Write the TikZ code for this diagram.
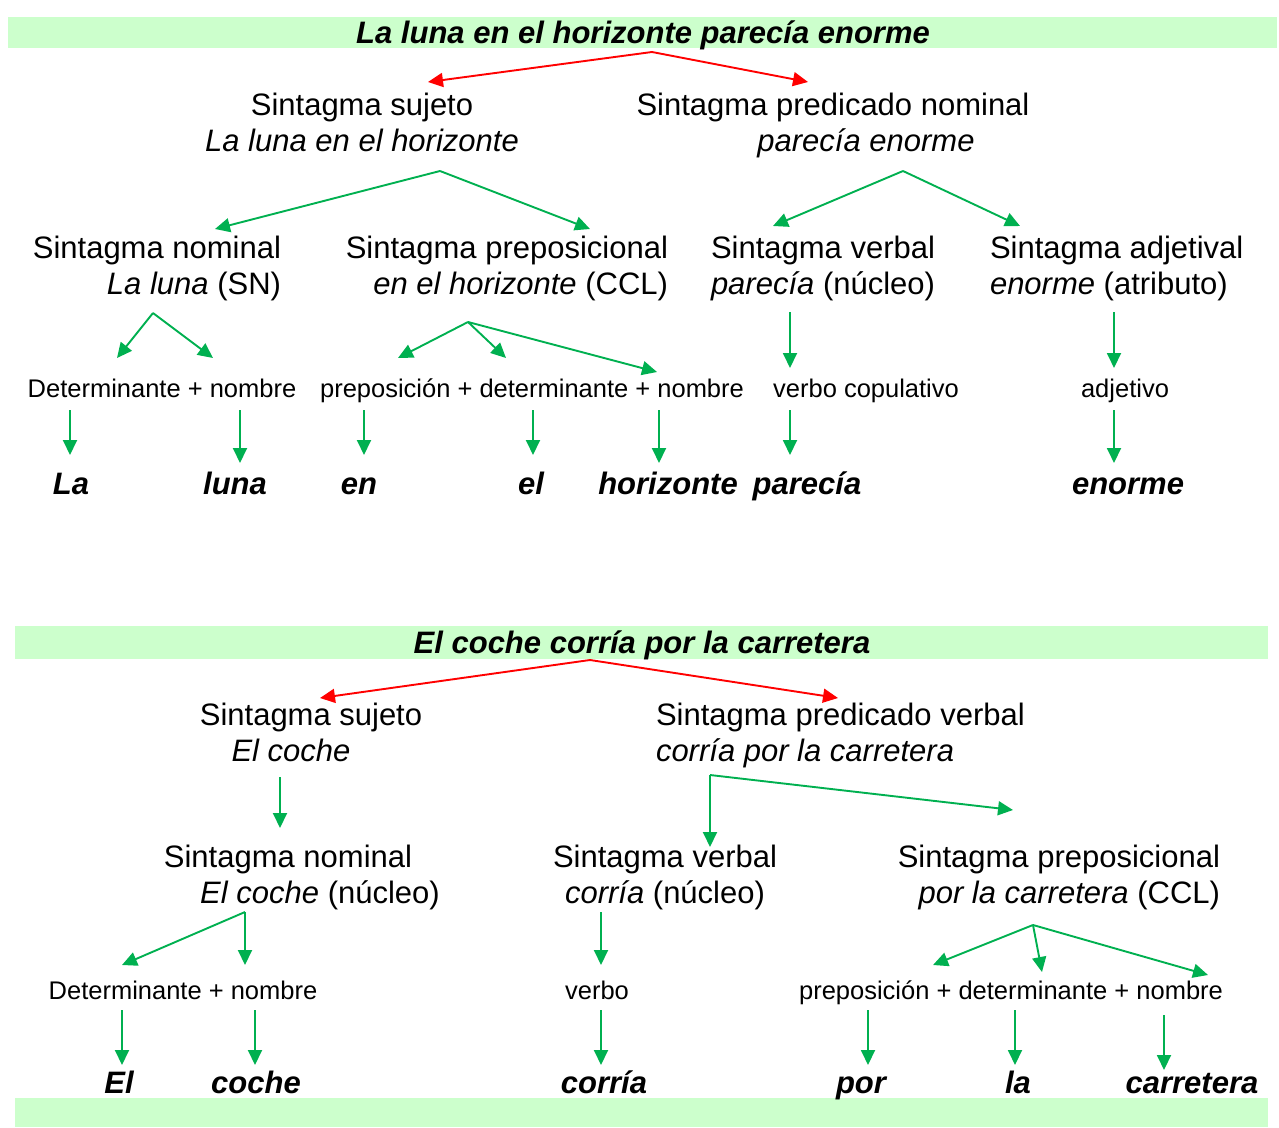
\documentclass[tikz,border=0pt]{standalone}
\usepackage{fontspec}
\setmainfont{Liberation Sans}
\usetikzlibrary{arrows.meta}
\definecolor{banda}{RGB}{204,255,204}
\definecolor{verde}{RGB}{0,176,80}
\definecolor{rojo}{RGB}{255,0,0}

\begin{document}
\begin{tikzpicture}[x=1pt,y=-1pt,
  sint/.style={font=\fontsize{31}{36}\selectfont, inner sep=0pt, outer sep=0pt},
  cat/.style={font=\fontsize{25.5}{30}\selectfont, anchor=base, inner sep=0pt},
  pal/.style={font=\fontsize{31}{36}\selectfont\bfseries\itshape, anchor=base, inner sep=0pt},
  flv/.style={draw=verde, line width=1.9pt, -{Triangle[length=15pt,width=14pt]}},
  flr/.style={draw=rojo, line width=1.9pt, -{Triangle[length=15pt,width=14pt]}}]
\useasboundingbox (0,0) rectangle (1279,1127);
\fill[banda] (8,17) rectangle (1277,48);
\fill[banda] (15,626) rectangle (1268,659);
\fill[banda] (15,1098) rectangle (1268,1127);

\node[pal] (tit1) at (643,43) {La luna en el horizonte parecía enorme};
\node[sint, anchor=north, align=center] (suj1) at (362,93) {Sintagma sujeto\\\textit{La luna en el horizonte}};
\node[sint, anchor=north, align=center] (pred1) at (833,93) {Sintagma predicado nominal\\\hspace*{66pt}\textit{parecía enorme}};
\node[sint, anchor=north east, align=right] (sn1) at (281,236) {Sintagma nominal\\\textit{La luna} (SN)};
\node[sint, anchor=north east, align=right] (sp1) at (668,236) {Sintagma preposicional\\\textit{en el horizonte} (CCL)};
\node[sint, anchor=north west, align=left] (sv1) at (711,236) {Sintagma verbal\\\textit{parecía} (núcleo)};
\node[sint, anchor=north west, align=left] (sa1) at (990,236) {Sintagma adjetival\\\textit{enorme} (atributo)};
\node[cat] (dn1) at (162,397) {Determinante + nombre};
\node[cat] (pdn1) at (532,397) {preposición + determinante + nombre};
\node[cat] (vc1) at (866,397) {verbo copulativo};
\node[cat] (adj1) at (1125,397) {adjetivo};
\node[pal] (la1) at (71,494) {La};
\node[pal] (luna1) at (235,494) {luna};
\node[pal] (en1) at (359,494) {en};
\node[pal] (el1) at (531,494) {el};
\node[pal] (hor1) at (668,494) {horizonte};
\node[pal] (par1) at (807,494) {parecía};
\node[pal] (eno1) at (1128,494) {enorme};

\coordinate (r1) at ([xshift=9pt,yshift=-9pt]tit1.base);
\draw[flr] (r1) -- ([xshift=66pt,yshift=11pt]suj1.north);
\draw[flr] (r1) -- ([xshift=-25pt,yshift=11pt]pred1.north);
\coordinate (f1) at ([xshift=78pt,yshift=-78pt]suj1.north);
\draw[flv] (f1) -- ([xshift=-66pt,yshift=7pt]sn1.north east);
\draw[flv] (f1) -- ([xshift=-78pt,yshift=7pt]sp1.north east);
\coordinate (f2) at ([xshift=70pt,yshift=-78pt]pred1.north);
\draw[flv] (f2) -- ([xshift=62pt,yshift=10pt]sv1.north west);
\draw[flv] (f2) -- ([xshift=30pt,yshift=10pt]sa1.north west);
\coordinate (f3) at ([xshift=-128pt,yshift=-77pt]sn1.north east);
\draw[flv] (f3) -- ([xshift=-45pt,yshift=39pt]dn1.base);
\draw[flv] (f3) -- ([xshift=51pt,yshift=39pt]dn1.base);
\coordinate (f4) at ([xshift=-200pt,yshift=-86pt]sp1.north east);
\draw[flv] (f4) -- ([xshift=-134pt,yshift=39pt]pdn1.base);
\draw[flv] (f4) -- ([xshift=-26pt,yshift=39pt]pdn1.base);
\draw[flv] (f4) -- ([xshift=125pt,yshift=25pt]pdn1.base);
\draw[flv] ([xshift=79pt,yshift=-76pt]sv1.north west) -- ([xshift=-76pt,yshift=29pt]vc1.base);
\draw[flv] ([xshift=124pt,yshift=-76pt]sa1.north west) -- ([xshift=-11pt,yshift=29pt]adj1.base);
\draw[flv] ([xshift=-92pt,yshift=-13pt]dn1.base) -- ([xshift=-1pt,yshift=39pt]la1.base);
\draw[flv] ([xshift=78pt,yshift=-13pt]dn1.base) -- ([xshift=5pt,yshift=31pt]luna1.base);
\draw[flv] ([xshift=-168pt,yshift=-13pt]pdn1.base) -- ([xshift=5pt,yshift=39pt]en1.base);
\draw[flv] ([xshift=1pt,yshift=-13pt]pdn1.base) -- ([xshift=2pt,yshift=39pt]el1.base);
\draw[flv] ([xshift=127pt,yshift=-13pt]pdn1.base) -- ([xshift=-9pt,yshift=31pt]hor1.base);
\draw[flv] ([xshift=-76pt,yshift=-13pt]vc1.base) -- ([xshift=-17pt,yshift=39pt]par1.base);
\draw[flv] ([xshift=-11pt,yshift=-13pt]adj1.base) -- ([xshift=-14pt,yshift=31pt]eno1.base);

\node[pal] (tit2) at (642,653) {El coche corría por la carretera};
\node[sint, anchor=north, align=center] (suj2) at (311,703) {Sintagma sujeto\\\textit{El coche}\hspace*{40pt}};
\node[sint, anchor=north west, align=left] (pred2) at (656,703) {Sintagma predicado verbal\\\textit{corría por la carretera}};
\node[sint, anchor=north, align=center] (sn2) at (288,845) {Sintagma nominal\\\hspace*{64pt}\textit{El coche} (núcleo)};
\node[sint, anchor=north, align=center] (sv2) at (665,845) {Sintagma verbal\\\textit{corría} (núcleo)};
\node[sint, anchor=north east, align=right] (sp2) at (1220,845) {Sintagma preposicional\\\textit{por la carretera} (CCL)};
\node[cat] (dn2) at (183,999) {Determinante + nombre};
\node[cat] (vb2) at (597,999) {verbo};
\node[cat] (pdn2) at (1011,999) {preposición + determinante + nombre};
\node[pal] (el2) at (119,1093) {El};
\node[pal] (coche2) at (256,1093) {coche};
\node[pal] (corria2) at (604,1093) {corría};
\node[pal] (por2) at (861,1093) {por};
\node[pal] (la2) at (1018,1093) {la};
\node[pal] (carr2) at (1192,1093) {carretera};

\coordinate (r2) at ([xshift=-52pt,yshift=-7pt]tit2.base);
\draw[flr] (r2) -- ([xshift=9pt,yshift=5pt]suj2.north);
\draw[flr] (r2) -- ([xshift=182pt,yshift=5pt]pred2.north west);
\draw[flv] ([xshift=-31pt,yshift=-74pt]suj2.north) -- ([xshift=-8pt,yshift=17pt]sn2.north);
\coordinate (f5) at ([xshift=54pt,yshift=-72pt]pred2.north west);
\draw[flv] (f5) -- ([xshift=45pt,yshift=-2pt]sv2.north);
\draw[flv] (f5) -- ([xshift=-207pt,yshift=35pt]sp2.north east);
\coordinate (f6) at ([xshift=-43pt,yshift=-67pt]sn2.north);
\draw[flv] (f6) -- ([xshift=-61pt,yshift=34pt]dn2.base);
\draw[flv] (f6) -- ([xshift=62pt,yshift=34pt]dn2.base);
\draw[flv] ([xshift=-64pt,yshift=-67pt]sv2.north) -- ([xshift=4pt,yshift=34pt]vb2.base);
\coordinate (f7) at ([xshift=-187pt,yshift=-80pt]sp2.north east);
\draw[flv] (f7) -- ([xshift=-78pt,yshift=34pt]pdn2.base);
\draw[flv] (f7) -- ([xshift=31pt,yshift=27pt]pdn2.base);
\draw[flv] (f7) -- ([xshift=197pt,yshift=24pt]pdn2.base);
\draw[flv] ([xshift=-61pt,yshift=-11pt]dn2.base) -- ([xshift=3pt,yshift=28pt]el2.base);
\draw[flv] ([xshift=72pt,yshift=-11pt]dn2.base) -- ([xshift=-1pt,yshift=28pt]coche2.base);
\draw[flv] ([xshift=4pt,yshift=-11pt]vb2.base) -- ([xshift=-3pt,yshift=28pt]corria2.base);
\draw[flv] ([xshift=-143pt,yshift=-11pt]pdn2.base) -- ([xshift=7pt,yshift=28pt]por2.base);
\draw[flv] ([xshift=4pt,yshift=-11pt]pdn2.base) -- ([xshift=-3pt,yshift=28pt]la2.base);
\draw[flv] ([xshift=153pt,yshift=-16pt]pdn2.base) -- ([xshift=-28pt,yshift=23pt]carr2.base);
\end{tikzpicture}
\end{document}
